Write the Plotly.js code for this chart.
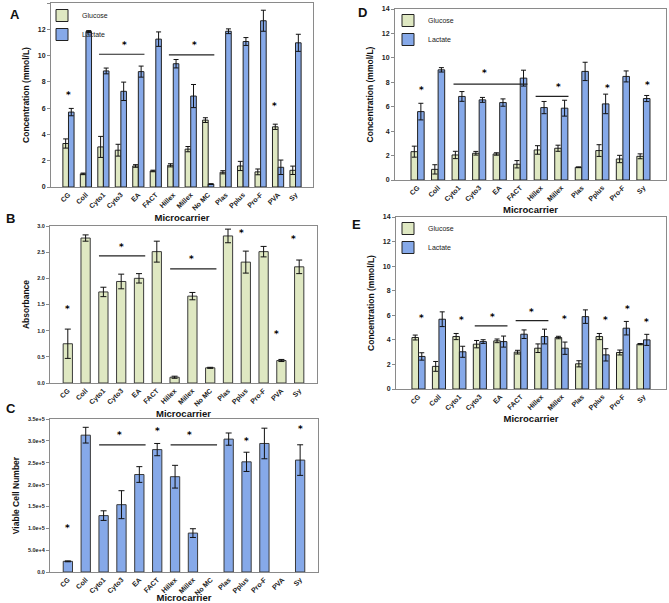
<!DOCTYPE html>
<html>
<head>
<meta charset="utf-8">
<script src="https://cdn.plot.ly/plotly-3.0.1.min.js"></script>
<style>html,body{margin:0;padding:0;background:#fff;}#chart{width:669px;height:603px;}</style>
</head>
<body>
<div id="chart"></div>
<script>
// ---------- categories ----------
const cats14 = ['CG','Coll','Cyto1','Cyto3','EA','FACT','Hillex','Millex','No MC','Plas','Pplus','Pro-F','PVA','Sy'];
const cats12 = ['CG','Coll','Cyto1','Cyto3','EA','FACT','Hillex','Millex','Plas','Pplus','Pro-F','Sy'];

// ---------- Panel A: glucose / lactate (mmol/L) ----------
const aGlucose    = [3.31, 1.0, 3.05, 2.8, 1.6, 1.22, 1.65, 2.88, 5.09, 1.12, 1.6, 1.15, 4.58, 1.27];
const aGlucoseErr = [0.35, 0.06, 0.8, 0.45, 0.1, 0.06, 0.12, 0.2, 0.18, 0.12, 0.35, 0.22, 0.2, 0.32];
const aLactate    = [5.7, 11.83, 8.83, 7.28, 8.78, 11.25, 9.38, 6.92, 0.22, 11.85, 11.07, 12.65, 1.5, 10.97];
const aLactateErr = [0.28, 0.07, 0.22, 0.7, 0.42, 0.55, 0.32, 0.88, 0.03, 0.18, 0.3, 0.8, 0.55, 0.65];

// ---------- Panel B: absorbance ----------
const bAbs    = [0.75, 2.77, 1.74, 1.94, 2.0, 2.51, 0.11, 1.66, 0.29, 2.81, 2.31, 2.51, 0.43, 2.22];
const bAbsErr = [0.28, 0.06, 0.09, 0.14, 0.09, 0.2, 0.02, 0.07, 0.01, 0.13, 0.21, 0.1, 0.02, 0.13];

// ---------- Panel C: viable cell number ----------
const cCells    = [24400, 313000, 129000, 154000, 223000, 280000, 218000, 89000, null, 304000, 252000, 294000, null, 256000];
const cCellsErr = [1000, 18000, 11000, 32000, 18000, 14000, 26000, 10000, 0, 14000, 22000, 35000, 0, 35000];
const cTickVals = [0, 50000, 100000, 150000, 200000, 250000, 300000, 350000];
const cTickText = ['0.0', '5.0e+4', '1.0e+5', '1.5e+5', '2.0e+5', '2.5e+5', '3.0e+5', '3.5e+5'];

// ---------- Panel D ----------
const dGlucose    = [2.32, 0.87, 2.05, 2.19, 2.13, 1.29, 2.46, 2.6, 1.04, 2.41, 1.72, 1.94];
const dGlucoseErr = [0.45, 0.38, 0.3, 0.15, 0.1, 0.3, 0.35, 0.25, 0.03, 0.48, 0.3, 0.2];
const dLactate    = [5.6, 9.02, 6.84, 6.56, 6.34, 8.34, 5.93, 5.88, 8.89, 6.23, 8.48, 6.67];
const dLactateErr = [0.68, 0.18, 0.4, 0.2, 0.3, 0.65, 0.5, 0.65, 0.75, 0.8, 0.45, 0.25];

// ---------- Panel E ----------
const eGlucose    = [4.19, 1.84, 4.27, 3.65, 3.92, 3.0, 3.32, 4.19, 2.05, 4.27, 2.97, 3.65];
const eGlucoseErr = [0.2, 0.4, 0.25, 0.3, 0.15, 0.15, 0.35, 0.1, 0.25, 0.25, 0.2, 0.05];
const eLactate    = [2.65, 5.68, 3.03, 3.86, 3.86, 4.46, 4.27, 3.32, 5.89, 2.78, 4.95, 4.0];
const eLactateErr = [0.3, 0.6, 0.45, 0.15, 0.45, 0.35, 0.6, 0.5, 0.55, 0.5, 0.55, 0.45];

// ---------- significance marks (category position, height) ----------
const aStarX = [0, 3.2, 7.2, 11.8],   aStarY = [7.0, 10.8, 10.8, 6.2];
const aLineFrom = [2, 6], aLineTo = [4, 8], aLineY = [10.1, 10.05];
const bStarX = [0, 3.0, 6.95, 9.75, 11.75, 12.7], bStarY = [1.42, 2.6, 2.36, 2.86, 0.94, 2.75];
const bLineFrom = [2, 6], bLineTo = [4, 8], bLineY = [2.43, 2.18];
const cStarX = [0, 2.9, 5.0, 6.8, 10.0, 13.0], cStarY = [100000, 313000, 322000, 313000, 299000, 326000];
const cLineFrom = [2, 6], cLineTo = [4, 8], cLineY = [291000, 291000];
const dStarX = [0.2, 3.25, 6.85, 9.25, 11.2], dStarY = [7.33, 8.75, 7.6, 7.55, 7.8];
const dLineFrom = [2, 6], dLineTo = [5, 7], dLineY = [7.85, 6.84];
const eStarX = [0.15, 2.1, 3.6, 5.5, 7.15, 9.15, 10.2, 11.15], eStarY = [5.76, 5.62, 5.84, 6.3, 5.68, 5.62, 6.49, 5.49];
const eLineFrom = [3, 5], eLineTo = [4, 6], eLineY = [5.14, 5.57];

// ---------- styling ----------
const W = 669, H = 603;
const GLU = '#dfe8c2', LAC = '#86a9e9', EDGE = '#222', FRAME = '#8a8a8a';
const FONT = 'Liberation Sans, Arial, sans-serif';
const px = v => v / W;
const py = v => 1 - v / H;

function errObj(arr, w) {
  return {type: 'data', array: arr, visible: true, color: '#111', thickness: 1, width: w};
}
function pairTraces(cats, glu, gluErr, lac, lacErr, xa, ya, legendId) {
  return [
    {type: 'bar', name: 'Glucose', x: cats, y: glu, xaxis: xa, yaxis: ya, legend: legendId,
     offset: -0.32, width: 0.32, marker: {color: GLU, line: {color: EDGE, width: 1}},
     error_y: errObj(gluErr, 2.5), showlegend: true},
    {type: 'bar', name: 'Lactate', x: cats, y: lac, xaxis: xa, yaxis: ya, legend: legendId,
     offset: 0, width: 0.32, marker: {color: LAC, line: {color: EDGE, width: 1}},
     error_y: errObj(lacErr, 2.5), showlegend: true}
  ];
}

const data = [].concat(
  pairTraces(cats14, aGlucose, aGlucoseErr, aLactate, aLactateErr, 'x', 'y', 'legend'),
  [{type: 'bar', name: 'Absorbance', x: cats14, y: bAbs, xaxis: 'x2', yaxis: 'y2', showlegend: false,
    width: 0.52, marker: {color: GLU, line: {color: '#3a3a3a', width: 1}}, error_y: errObj(bAbsErr, 3)}],
  [{type: 'bar', name: 'Viable Cell Number', x: cats14, y: cCells, xaxis: 'x3', yaxis: 'y3', showlegend: false,
    width: 0.52, marker: {color: LAC, line: {color: '#3a3a3a', width: 1}}, error_y: errObj(cCellsErr, 3)}],
  pairTraces(cats12, dGlucose, dGlucoseErr, dLactate, dLactateErr, 'x4', 'y4', 'legend2'),
  pairTraces(cats12, eGlucose, eGlucoseErr, eLactate, eLactateErr, 'x5', 'y5', 'legend3')
);

const tickFont = {family: FONT, size: 7, color: '#222', weight: 'bold'};
const titleFont = {family: FONT, size: 9.5, color: '#111', weight: 'bold'};

function xAxis(dom, anchor, cats, rng) {
  return {domain: dom, anchor: anchor, type: 'category', categoryorder: 'array', categoryarray: cats,
    range: rng, showline: true, linecolor: FRAME, linewidth: 1, mirror: true, ticks: '',
    tickangle: -45, autotickangles: [-45], tickfont: tickFont, showgrid: false, zeroline: false, fixedrange: true,
    title: {text: 'Microcarrier', font: titleFont, standoff: 3}};
}
function yAxis(dom, anchor, rng, dtick, title, extra) {
  return Object.assign({domain: dom, anchor: anchor, range: rng, dtick: dtick, tick0: 0,
    showline: true, linecolor: FRAME, linewidth: 1, mirror: true, ticks: 'outside', ticklen: 3,
    tickcolor: FRAME, tickfont: tickFont, showgrid: false, zeroline: false, fixedrange: true,
    title: {text: title, font: Object.assign({}, titleFont, {size: 8.5}), standoff: 6}}, extra || {});
}

const shapes = [];
const annotations = [];
function addMarks(xr, yr, sx, sy, lf, lt, ly) {
  for (let i = 0; i < sx.length; i++) {
    annotations.push({xref: xr, yref: yr, x: sx[i], y: sy[i], text: '*', showarrow: false,
      font: {family: 'DejaVu Sans, sans-serif', size: 9, color: '#000', weight: 'bold'}, yanchor: 'middle'});
  }
  for (let i = 0; i < lf.length; i++) {
    shapes.push({type: 'line', xref: xr, yref: yr, x0: lf[i] - 0.25, x1: lt[i] + 0.35, y0: ly[i], y1: ly[i],
      line: {color: '#222', width: 1.2}});
  }
}
addMarks('x', 'y', aStarX, aStarY, aLineFrom, aLineTo, aLineY);
addMarks('x2', 'y2', bStarX, bStarY, bLineFrom, bLineTo, bLineY);
addMarks('x3', 'y3', cStarX, cStarY, cLineFrom, cLineTo, cLineY);
addMarks('x4', 'y4', dStarX, dStarY, dLineFrom, dLineTo, dLineY);
addMarks('x5', 'y5', eStarX, eStarY, eLineFrom, eLineTo, eLineY);

const letters = [['A', 8, 15], ['B', 4, 218], ['C', 4, 408], ['D', 356, 12], ['E', 350, 225]];
letters.forEach(l => annotations.push({xref: 'paper', yref: 'paper', x: px(l[1]), y: py(l[2]), text: l[0],
  showarrow: false, xanchor: 'left', yanchor: 'middle', font: {family: FONT, size: 13, color: '#111', weight: 'bold'}}));

const legendBase = {bgcolor: 'rgba(0,0,0,0)', borderwidth: 0, font: {family: FONT, size: 7, color: '#222'},
  xanchor: 'left', yanchor: 'top', tracegroupgap: 0, itemwidth: 30};

const layout = {
  width: W, height: H, margin: {l: 0, r: 0, t: 0, b: 0}, paper_bgcolor: '#fff', plot_bgcolor: '#fff',
  barmode: 'overlay', font: {family: FONT},
  xaxis:  xAxis([px(51), px(313)], 'y', cats14, [-1, 14]),
  yaxis:  yAxis([py(187), py(3)], 'x', [0, 14], 2, 'Concentration (mmol/L)'),
  xaxis2: xAxis([px(50), px(317)], 'y2', cats14, [-1, 14]),
  yaxis2: yAxis([py(383), py(226)], 'x2', [0, 3], 0.5, 'Absorbance', {tickformat: '.1f', tickfont: Object.assign({}, tickFont, {size: 5.5})}),
  xaxis3: xAxis([px(50), px(318)], 'y3', cats14, [-1, 14]),
  yaxis3: yAxis([py(572), py(419)], 'x3', [0, 350000], null, 'Viable Cell Number',
    {tickmode: 'array', tickvals: cTickVals, ticktext: cTickText, tickfont: Object.assign({}, tickFont, {size: 5.5})}),
  xaxis4: xAxis([px(395), px(666)], 'y4', cats12, [-1.1, 12.1]),
  yaxis4: yAxis([py(180), py(9)], 'x4', [0, 14], 2, 'Concentration (mmol/L)'),
  xaxis5: xAxis([px(396), px(666)], 'y5', cats12, [-1.1, 12.1]),
  yaxis5: yAxis([py(389), py(217)], 'x5', [0, 14], 2, 'Concentration (mmol/L)'),
  legend:  Object.assign({}, legendBase, {x: px(42), y: py(1)}),
  legend2: Object.assign({}, legendBase, {x: px(388), y: py(6)}),
  legend3: Object.assign({}, legendBase, {x: px(388), y: py(214)}),
  shapes: shapes, annotations: annotations
};
delete layout.yaxis3.dtick;

Plotly.newPlot('chart', data, layout, {staticPlot: true, displayModeBar: false});
</script>
</body>
</html>
